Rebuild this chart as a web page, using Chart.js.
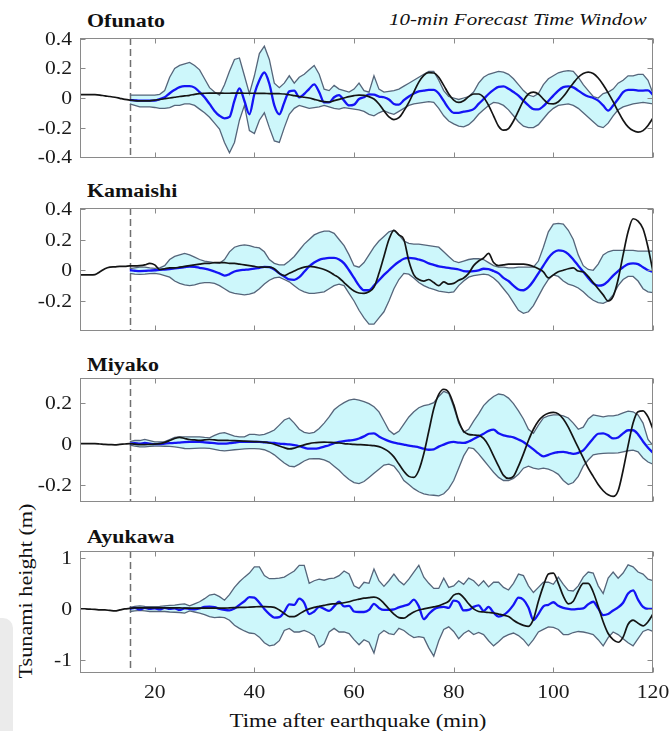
<!DOCTYPE html>
<html lang="en">
<head>
<meta charset="utf-8">
<title>Tsunami height forecasts</title>
<script src="https://cdn.jsdelivr.net/npm/chart.js@4.4.1/dist/chart.umd.min.js"></script>
<style>
  html, body { margin: 0; padding: 0; background: #fff; }
  body { position: relative; width: 671px; height: 731px; overflow: hidden;
         font-family: "Liberation Serif", "Times New Roman", serif; color: #111; }
  canvas { position: absolute; left: 0; }
  .txt { position: absolute; white-space: nowrap; line-height: 1; }
  .title { font-weight: bold; font-size: 18px; transform-origin: 0 50%; transform: scaleX(1.22); }
  .note { font-style: italic; font-size: 17.5px; right: 24px; transform-origin: 100% 50%; transform: scaleX(1.2); }
  .xtitle { font-size: 19px; left: 358px; top: 711px; transform: translateX(-50%) scaleX(1.2); }
  .ytitle { font-size: 19px; left: 25px; top: 591px; transform: translate(-50%, -50%) rotate(-90deg) scaleX(1.17); }
  .shade { position: absolute; left: 0; top: 618px; width: 13px; height: 113px; background: #ebebeb;
           border-top-right-radius: 10px; }
</style>
</head>
<body>
<div class="shade"></div>
<div class="txt title" style="left:87px;top:11.6px">Ofunato</div>
<div class="txt note" style="top:11.4px">10-min Forecast Time Window</div>
<div class="txt title" style="left:87px;top:181.8px">Kamaishi</div>
<div class="txt title" style="left:87px;top:355.6px">Miyako</div>
<div class="txt title" style="left:87px;top:528.2px">Ayukawa</div>
<div class="txt xtitle">Time after earthquake (min)</div>
<div class="txt ytitle">Tsunami height (m)</div>

<script>
// ---- time grid (minutes after the earthquake) ----
const obsMinutes = [5,6,7,8,9,10,11,12,13,14,15,16,17,18,19,20,21,22,23,24,25,26,27,28,29,30,
  31,32,33,34,35,36,37,38,39,40,41,42,43,44,45,46,47,48,49,50,51,52,53,54,55,56,57,58,59,60,
  61,62,63,64,65,66,67,68,69,70,71,72,73,74,75,76,77,78,79,80,81,82,83,84,85,86,87,88,89,90,
  91,92,93,94,95,96,97,98,99,100,101,102,103,104,105,106,107,108,109,110,111,112,113,114,115,
  116,117,118,119,120];
const fcMinutes = obsMinutes.slice(10);   // forecasts start at 15 min
const forecastStart = 15;
const xTicks = [20, 40, 60, 80, 100, 120];

// ---- Ofunato ----
const ofuUpper = [0.02,0.02,0.02,0.02,0.02,0.02,0.025,0.05,0.14,0.2,
  0.22,0.23,0.24,0.22,0.19,0.13,0.07,0.04,0.02,0.09,
  0.18,0.26,0.27,0.15,0.03,0.15,0.3,0.35,0.26,0.1,
  0.07,0.1,0.15,0.1,0.14,0.16,0.19,0.22,0.16,0.06,
  0.05,0.085,0.06,0.05,0.04,0.06,0.1,0.05,0.04,0.15,
  0.06,0.04,0.045,0.05,0.06,0.08,0.1,0.12,0.14,0.16,
  0.18,0.18,0.12,0.05,0.01,0.0,-0.01,0.0,0.01,0.04,
  0.1,0.14,0.16,0.17,0.18,0.175,0.16,0.13,0.09,0.05,
  0.02,0.01,0.03,0.09,0.13,0.15,0.17,0.18,0.185,0.18,
  0.14,0.09,0.05,0.01,0.0,0.03,0.04,0.06,0.1,0.12,
  0.15,0.15,0.16,0.16,0.12,0.03];
const ofuLower = [-0.04,-0.05,-0.06,-0.06,-0.06,-0.064,-0.07,-0.07,-0.065,-0.05,
  -0.05,-0.04,-0.04,-0.05,-0.075,-0.1,-0.13,-0.17,-0.21,-0.3,
  -0.37,-0.3,-0.15,-0.05,-0.22,-0.24,-0.15,-0.1,-0.2,-0.29,
  -0.3,-0.2,-0.11,-0.07,-0.05,-0.06,-0.07,-0.065,-0.06,-0.05,
  -0.06,-0.07,-0.075,-0.065,-0.07,-0.075,-0.08,-0.09,-0.11,-0.12,
  -0.1,-0.085,-0.1,-0.11,-0.09,-0.07,-0.05,-0.04,-0.035,-0.03,
  -0.025,-0.03,-0.07,-0.12,-0.155,-0.175,-0.19,-0.195,-0.18,-0.15,
  -0.11,-0.08,-0.05,-0.03,-0.035,-0.05,-0.08,-0.12,-0.16,-0.19,
  -0.2,-0.2,-0.18,-0.14,-0.1,-0.07,-0.05,-0.045,-0.04,-0.05,
  -0.07,-0.1,-0.13,-0.16,-0.19,-0.2,-0.17,-0.12,-0.08,-0.06,
  -0.05,-0.04,-0.035,-0.03,-0.035,-0.04];
const ofuMean = [-0.014,-0.016,-0.018,-0.018,-0.018,-0.018,-0.007,0.005,0.032,0.055,
  0.073,0.08,0.08,0.07,0.04,0.005,-0.04,-0.087,-0.12,-0.137,
  -0.128,-0.018,0.065,-0.02,-0.11,0.027,0.12,0.172,0.096,-0.05,
  -0.11,-0.03,0.045,0.05,0.005,0.027,0.062,0.092,0.04,-0.03,
  -0.03,0.005,0.02,-0.018,-0.05,-0.045,-0.007,0.005,0.025,0.023,
  0.01,0.005,-0.01,-0.04,-0.045,-0.015,0.01,0.03,0.045,0.05,
  0.055,0.055,0.03,-0.02,-0.07,-0.1,-0.1,-0.092,-0.087,-0.075,
  -0.04,-0.007,0.027,0.055,0.075,0.078,0.062,0.04,0.016,-0.018,
  -0.05,-0.075,-0.077,-0.055,-0.02,0.016,0.05,0.073,0.078,0.072,
  0.05,0.027,0.01,0.0,-0.018,-0.05,-0.085,-0.05,-0.007,0.04,
  0.055,0.055,0.05,0.05,0.052,0.02];
const ofuObs = [0.023,0.023,0.023,0.023,0.02,0.014,0.01,0.005,-0.002,-0.009,
  -0.014,-0.018,-0.02,-0.02,-0.019,-0.014,-0.01,-0.005,0.0,0.005,
  0.01,0.014,0.018,0.025,0.03,0.032,0.033,0.033,0.033,0.032,
  0.032,0.033,0.033,0.032,0.032,0.032,0.031,0.031,0.03,0.03,
  0.029,0.027,0.022,0.016,0.01,0.005,0.0,-0.009,-0.018,-0.025,
  -0.027,-0.018,-0.009,0.0,0.009,0.016,0.02,0.018,0.009,-0.007,
  -0.04,-0.087,-0.128,-0.146,-0.133,-0.087,-0.03,0.04,0.107,0.153,
  0.171,0.169,0.14,0.085,0.027,-0.014,-0.03,-0.018,0.009,0.027,
  0.027,0.005,-0.05,-0.12,-0.19,-0.217,-0.206,-0.155,-0.087,-0.018,
  0.027,0.039,0.027,-0.007,-0.037,-0.04,-0.025,0.01,0.055,0.1,
  0.14,0.165,0.175,0.165,0.135,0.09,0.035,-0.025,-0.09,-0.15,
  -0.195,-0.22,-0.23,-0.22,-0.185,-0.135];
const ofuTicks = [-0.4, -0.2, 0, 0.2, 0.4];

// ---- Kamaishi ----
const kamUpper = [0.01,0.015,0.02,0.02,0.015,0.012,0.015,0.03,0.07,0.09,
  0.1,0.11,0.1,0.085,0.07,0.06,0.055,0.05,0.045,0.07,
  0.12,0.15,0.16,0.165,0.16,0.15,0.145,0.12,0.07,0.045,
  0.035,0.035,0.06,0.09,0.13,0.17,0.2,0.23,0.245,0.255,
  0.255,0.24,0.2,0.16,0.1,0.03,0.02,0.05,0.1,0.15,
  0.19,0.22,0.25,0.26,0.23,0.19,0.175,0.17,0.17,0.165,
  0.16,0.155,0.15,0.12,0.09,0.06,0.05,0.06,0.07,0.075,
  0.075,0.07,0.05,0.03,0.02,0.02,0.015,0.015,0.02,0.02,
  0.02,0.02,0.06,0.15,0.25,0.3,0.305,0.3,0.26,0.2,
  0.1,0.03,0.005,0.0,0.04,0.1,0.12,0.13,0.13,0.13,
  0.13,0.13,0.125,0.125,0.125,0.125];
const kamLower = [-0.02,-0.025,-0.027,-0.025,-0.022,-0.02,-0.025,-0.035,-0.045,-0.07,
  -0.085,-0.095,-0.1,-0.095,-0.085,-0.08,-0.08,-0.085,-0.1,-0.12,
  -0.14,-0.15,-0.155,-0.16,-0.155,-0.145,-0.12,-0.09,-0.065,-0.05,
  -0.045,-0.06,-0.075,-0.1,-0.125,-0.14,-0.15,-0.15,-0.145,-0.14,
  -0.12,-0.1,-0.09,-0.1,-0.15,-0.2,-0.26,-0.31,-0.35,-0.35,
  -0.31,-0.27,-0.2,-0.12,-0.06,-0.02,-0.025,-0.05,-0.08,-0.1,
  -0.115,-0.125,-0.135,-0.14,-0.145,-0.14,-0.1,-0.07,-0.045,-0.035,
  -0.03,-0.025,-0.03,-0.05,-0.08,-0.12,-0.16,-0.21,-0.26,-0.28,
  -0.27,-0.23,-0.17,-0.11,-0.06,-0.03,-0.04,-0.07,-0.09,-0.1,
  -0.115,-0.14,-0.17,-0.195,-0.21,-0.215,-0.2,-0.16,-0.1,-0.06,
  -0.04,-0.04,-0.07,-0.12,-0.14,-0.145];
const kamMean = [0.0,-0.003,-0.005,-0.004,-0.002,0.0,0.003,0.005,0.008,0.012,
  0.016,0.02,0.024,0.022,0.016,0.01,0.003,-0.008,-0.02,-0.035,
  -0.025,-0.008,0.0,0.003,0.006,0.01,0.016,0.022,0.02,0.005,
  -0.02,-0.04,-0.06,-0.062,-0.045,-0.01,0.025,0.05,0.068,0.076,
  0.08,0.08,0.07,0.045,0.0,-0.05,-0.1,-0.13,-0.13,-0.1,
  -0.065,-0.03,0.0,0.03,0.055,0.075,0.08,0.078,0.07,0.06,
  0.045,0.035,0.025,0.02,0.015,0.01,0.005,-0.005,-0.008,-0.006,
  0.0,0.01,0.008,-0.005,-0.02,-0.05,-0.07,-0.1,-0.125,-0.13,
  -0.11,-0.07,-0.02,0.03,0.08,0.115,0.13,0.125,0.105,0.07,
  0.03,-0.01,-0.05,-0.085,-0.1,-0.095,-0.07,-0.035,-0.005,0.02,
  0.04,0.045,0.04,0.02,0.0,-0.01];
const kamObs = [-0.03,-0.03,-0.03,-0.028,-0.01,0.01,0.02,0.022,0.025,0.025,
  0.028,0.028,0.03,0.035,0.045,0.035,0.005,0.01,0.015,0.015,
  0.02,0.025,0.03,0.035,0.04,0.045,0.045,0.05,0.05,0.05,
  0.045,0.045,0.04,0.035,0.03,0.025,0.02,0.02,0.02,0.01,
  -0.02,-0.035,-0.02,-0.005,0.01,0.02,0.025,0.022,0.015,0.005,
  -0.01,-0.03,-0.05,-0.08,-0.11,-0.135,-0.148,-0.15,-0.14,-0.11,
  -0.02,0.09,0.2,0.26,0.23,0.2,0.06,-0.03,-0.06,-0.07,
  -0.06,-0.08,-0.1,-0.075,-0.09,-0.085,-0.065,-0.05,-0.02,0.03,
  0.06,0.08,0.11,0.05,0.03,0.035,0.04,0.04,0.04,0.04,
  0.035,0.025,0.01,-0.01,-0.05,-0.03,-0.01,0.0,0.01,0.015,
  -0.005,-0.01,-0.04,-0.08,-0.12,-0.16,-0.2,-0.17,-0.06,0.1,
  0.25,0.335,0.32,0.27,0.15,-0.01];
const kamTicks = [-0.2, 0, 0.2, 0.4];

// ---- Miyako ----
const miyUpper = [0.01,0.015,0.015,0.02,0.015,0.008,0.008,0.01,0.02,0.03,
  0.033,0.033,0.033,0.033,0.033,0.03,0.028,0.04,0.05,0.053,
  0.045,0.036,0.033,0.033,0.045,0.045,0.041,0.045,0.055,0.066,
  0.09,0.115,0.125,0.1,0.07,0.055,0.05,0.055,0.074,0.1,
  0.13,0.165,0.185,0.2,0.212,0.217,0.212,0.205,0.195,0.18,
  0.155,0.11,0.065,0.045,0.06,0.095,0.13,0.155,0.175,0.185,
  0.19,0.2,0.23,0.255,0.245,0.18,0.1,0.055,0.07,0.11,
  0.145,0.185,0.21,0.23,0.242,0.238,0.222,0.195,0.16,0.12,
  0.07,0.05,0.09,0.125,0.135,0.14,0.14,0.135,0.125,0.1,
  0.07,0.08,0.12,0.14,0.135,0.13,0.135,0.135,0.14,0.15,
  0.158,0.155,0.14,0.1,0.02,-0.01];
const miyLower = [-0.008,-0.012,-0.016,-0.016,-0.014,-0.012,-0.012,-0.013,-0.014,-0.016,
  -0.02,-0.024,-0.025,-0.023,-0.022,-0.022,-0.023,-0.028,-0.033,-0.036,
  -0.033,-0.03,-0.028,-0.026,-0.025,-0.025,-0.026,-0.03,-0.04,-0.055,
  -0.075,-0.095,-0.11,-0.113,-0.1,-0.085,-0.075,-0.073,-0.074,-0.08,
  -0.09,-0.11,-0.13,-0.155,-0.175,-0.19,-0.195,-0.185,-0.165,-0.145,
  -0.125,-0.105,-0.1,-0.11,-0.14,-0.18,-0.2,-0.22,-0.235,-0.245,
  -0.25,-0.252,-0.255,-0.245,-0.22,-0.18,-0.12,-0.06,-0.02,-0.025,
  -0.05,-0.08,-0.11,-0.14,-0.165,-0.18,-0.18,-0.17,-0.15,-0.12,
  -0.11,-0.12,-0.125,-0.12,-0.125,-0.135,-0.15,-0.18,-0.2,-0.19,
  -0.16,-0.11,-0.08,-0.055,-0.05,-0.048,-0.047,-0.047,-0.045,-0.04,
  -0.035,-0.032,-0.04,-0.07,-0.09,-0.1];
const miyMean = [0.0,0.002,0.0,0.003,0.0,-0.003,-0.002,0.0,0.002,0.003,
  0.005,0.007,0.008,0.008,0.008,0.006,0.004,0.002,0.0,0.0,
  0.002,0.005,0.008,0.008,0.008,0.008,0.008,0.006,0.005,0.003,
  0.0,-0.002,-0.004,-0.008,-0.013,-0.02,-0.025,-0.025,-0.022,-0.015,
  -0.008,0.002,0.008,0.012,0.015,0.018,0.025,0.035,0.048,0.05,
  0.035,0.022,0.012,0.005,0.0,-0.005,-0.01,-0.014,-0.018,-0.025,
  -0.03,-0.028,-0.015,-0.005,0.005,0.008,0.005,0.003,0.01,0.022,
  0.035,0.048,0.062,0.068,0.05,0.04,0.035,0.03,0.02,0.008,
  -0.01,-0.028,-0.048,-0.062,-0.055,-0.046,-0.042,-0.04,-0.045,-0.05,
  -0.045,-0.033,-0.005,0.025,0.048,0.05,0.04,0.025,0.03,0.05,
  0.065,0.065,0.045,0.01,-0.02,-0.045];
const miyObs = [0.0,0.0,0.0,0.0,-0.002,-0.004,-0.005,-0.006,-0.004,-0.002,
  0.0,-0.003,-0.005,-0.005,-0.004,-0.003,0.0,0.006,0.015,0.025,
  0.03,0.025,0.02,0.018,0.016,0.018,0.02,0.018,0.016,0.016,
  0.015,0.014,0.013,0.012,0.011,0.01,0.009,0.007,0.003,-0.003,
  -0.012,-0.02,-0.026,-0.022,-0.014,-0.006,0.0,0.004,0.006,0.007,
  0.006,0.005,0.003,0.0,-0.002,-0.004,-0.005,-0.006,-0.008,-0.01,
  -0.015,-0.025,-0.04,-0.065,-0.1,-0.135,-0.16,-0.165,-0.13,-0.05,
  0.06,0.17,0.24,0.265,0.25,0.19,0.11,0.06,0.045,0.042,
  0.04,0.025,-0.01,-0.06,-0.11,-0.155,-0.17,-0.16,-0.11,-0.05,
  0.015,0.07,0.11,0.135,0.148,0.152,0.145,0.12,0.08,0.03,
  -0.02,-0.07,-0.12,-0.16,-0.2,-0.23,-0.25,-0.258,-0.23,-0.13,
  -0.01,0.1,0.155,0.16,0.13,0.07];
const miyTicks = [-0.2, 0, 0.2];

// ---- Ayukawa ----
const ayuUpper = [0.03,0.05,0.06,0.05,0.045,0.045,0.05,0.06,0.07,0.075,
  0.09,0.1,0.06,0.1,0.14,0.2,0.27,0.29,0.24,0.17,
  0.28,0.42,0.53,0.62,0.7,0.82,0.82,0.65,0.59,0.59,
  0.6,0.62,0.68,0.74,0.85,0.85,0.5,0.55,0.58,0.56,
  0.59,0.6,0.65,0.74,0.68,0.45,0.4,0.52,0.5,0.78,
  0.55,0.44,0.55,0.68,0.55,0.47,0.58,0.72,0.85,0.62,
  0.5,0.4,0.4,0.6,0.42,0.45,0.55,0.48,0.6,0.55,
  0.45,0.55,0.43,0.52,0.52,0.42,0.37,0.5,0.68,0.65,
  0.45,0.32,0.42,0.52,0.52,0.48,0.62,0.48,0.36,0.35,
  0.45,0.62,0.72,0.7,0.45,0.3,0.6,0.72,0.6,0.7,
  0.86,0.82,0.72,0.68,0.58,0.55];
const ayuLower = [-0.05,-0.04,-0.03,-0.04,-0.05,-0.05,-0.05,-0.05,-0.06,-0.065,
  -0.07,-0.08,-0.04,-0.06,-0.08,-0.11,-0.15,-0.17,-0.16,-0.17,
  -0.22,-0.32,-0.38,-0.43,-0.47,-0.48,-0.55,-0.66,-0.72,-0.7,
  -0.62,-0.42,-0.38,-0.45,-0.45,-0.42,-0.46,-0.52,-0.75,-0.68,
  -0.45,-0.38,-0.45,-0.45,-0.48,-0.6,-0.7,-0.6,-0.65,-0.86,
  -0.5,-0.42,-0.48,-0.5,-0.38,-0.42,-0.5,-0.56,-0.54,-0.56,
  -0.76,-0.92,-0.62,-0.4,-0.35,-0.44,-0.58,-0.48,-0.42,-0.5,
  -0.46,-0.5,-0.62,-0.72,-0.64,-0.55,-0.5,-0.47,-0.52,-0.6,
  -0.72,-0.6,-0.45,-0.4,-0.35,-0.36,-0.4,-0.5,-0.5,-0.46,
  -0.44,-0.45,-0.47,-0.5,-0.6,-0.72,-0.56,-0.45,-0.5,-0.58,
  -0.66,-0.72,-0.58,-0.44,-0.4,-0.44];
const ayuMean = [0.0,0.02,-0.01,0.02,0.0,0.01,-0.01,0.02,0.0,0.01,
  -0.02,0.01,0.0,-0.01,0.01,0.04,0.045,0.035,0.0,-0.02,
  -0.03,0.01,0.08,0.15,0.23,0.22,0.12,0.0,-0.1,-0.17,
  -0.16,-0.06,0.09,0.08,0.2,0.12,-0.1,-0.05,0.04,0.0,
  -0.04,0.05,0.14,0.05,0.06,-0.05,-0.06,-0.06,-0.02,0.1,
  0.02,-0.02,-0.02,-0.01,0.03,0.06,0.09,0.18,0.05,-0.2,
  -0.1,-0.01,0.03,0.04,0.02,0.16,0.13,-0.03,-0.02,0.04,
  0.07,-0.04,0.04,-0.07,-0.15,-0.12,-0.04,0.08,0.22,0.18,
  0.03,-0.22,-0.1,0.05,0.08,0.13,0.06,0.02,0.0,-0.01,
  0.0,0.01,0.09,0.14,0.01,-0.12,-0.1,-0.03,0.03,0.12,
  0.3,0.36,0.18,0.04,0.0,0.0];
const ayuObs = [0.0,0.0,-0.005,-0.01,-0.02,-0.02,-0.03,-0.04,-0.02,0.0,
  0.01,0.02,0.02,0.02,0.02,0.02,0.02,0.02,0.02,0.02,
  0.02,0.015,0.015,0.015,0.015,0.015,0.015,0.015,0.015,0.015,
  0.02,0.025,0.03,0.03,0.035,0.04,0.045,0.045,0.04,0.03,
  -0.02,-0.09,-0.15,-0.15,-0.1,-0.04,0.0,0.03,0.05,0.07,
  0.09,0.1,0.11,0.12,0.14,0.17,0.19,0.21,0.22,0.23,
  0.2,0.11,0.0,-0.1,-0.17,-0.18,-0.12,-0.06,-0.02,0.0,
  0.02,0.04,0.06,0.1,0.15,0.27,0.3,0.22,0.1,0.0,
  -0.05,-0.06,-0.07,-0.08,-0.1,-0.12,-0.15,-0.22,-0.28,-0.32,
  -0.34,-0.2,0.15,0.45,0.68,0.7,0.5,0.25,0.1,0.15,
  0.35,0.5,0.5,0.33,0.05,-0.25,-0.48,-0.6,-0.65,-0.55,
  -0.3,-0.22,-0.28,-0.33,-0.25,-0.1];
const ayuTicks = [-1, 0, 1];

// ---- styling ----
const BAND_FILL = 'rgb(205, 247, 251)';
const BAND_EDGE = '#55657a';
const MEAN_BLUE = '#1414f5';
const OBS_BLACK = '#141414';
const FRAME = '#8a8a8a';
const LABEL_FONT = '18px "Liberation Serif", "Times New Roman", serif';

const panels = [
  { top: 38,  bottom: 158, min: -0.405, max: 0.405, ticks: ofuTicks, up: ofuUpper, lo: ofuLower, mean: ofuMean, obs: ofuObs },
  { top: 208, bottom: 331, min: -0.395, max: 0.405, ticks: kamTicks, up: kamUpper, lo: kamLower, mean: kamMean, obs: kamObs },
  { top: 378, bottom: 502, min: -0.285, max: 0.32,  ticks: miyTicks, up: miyUpper, lo: miyLower, mean: miyMean, obs: miyObs },
  { top: 551, bottom: 673, min: -1.25,  max: 1.13,  ticks: ayuTicks, up: ayuUpper, lo: ayuLower, mean: ayuMean, obs: ayuObs, xLabels: true }
];

const pairs = (xs, ys) => xs.map((x, i) => ({ x, y: ys[i] }));

// Box, inward ticks, tick labels and the forecast-start marker, in MATLAB style.
function boxPlugin(p) {
  return {
    id: 'matlabBox',
    beforeDatasetsDraw(chart) {
      const { ctx, chartArea: a, scales: { x } } = chart;
      const px = Math.round(x.getPixelForValue(forecastStart)) + 0.5;
      ctx.save();
      ctx.strokeStyle = '#707070';
      ctx.lineWidth = 1.5;
      ctx.setLineDash([7, 4]);
      ctx.beginPath();
      ctx.moveTo(px, a.top);
      ctx.lineTo(px, a.bottom);
      ctx.stroke();
      ctx.restore();
    },
    afterDatasetsDraw(chart) {
      const { ctx, chartArea: a, scales: { x, y } } = chart;
      const L = Math.round(a.left) + 0.5, R = Math.round(a.right) - 0.5;
      const T = Math.round(a.top) + 0.5, B = Math.round(a.bottom) - 0.5;
      ctx.save();
      ctx.strokeStyle = FRAME;
      ctx.lineWidth = 1;
      ctx.strokeRect(L, T, R - L, B - T);
      ctx.beginPath();
      xTicks.forEach(v => {
        const q = Math.round(x.getPixelForValue(v)) + 0.5;
        ctx.moveTo(q, B); ctx.lineTo(q, B - 5);
        ctx.moveTo(q, T); ctx.lineTo(q, T + 5);
      });
      p.ticks.forEach(v => {
        const q = Math.round(y.getPixelForValue(v)) + 0.5;
        ctx.moveTo(L, q); ctx.lineTo(L + 5, q);
        ctx.moveTo(R, q); ctx.lineTo(R - 5, q);
      });
      ctx.stroke();

      ctx.fillStyle = '#1a1a1a';
      ctx.font = LABEL_FONT;
      ctx.textBaseline = 'alphabetic';
      ctx.textAlign = 'right';
      p.ticks.forEach(v => {
        ctx.save();
        ctx.translate(a.left - 8, y.getPixelForValue(v) + 6);
        ctx.scale(1.2, 1);
        ctx.fillText(String(v), 0, 0);
        ctx.restore();
      });
      if (p.xLabels) {
        ctx.textAlign = 'center';
        xTicks.forEach(v => {
          ctx.save();
          ctx.translate(x.getPixelForValue(v), a.bottom + 25);
          ctx.scale(1.2, 1);
          ctx.fillText(String(v), 0, 0);
          ctx.restore();
        });
      }
      ctx.restore();
    }
  };
}

panels.forEach(p => {
  const padTop = 14, padBottom = p.xLabels ? 34 : 14;
  const canvas = document.createElement('canvas');
  canvas.width = 671;
  canvas.height = (p.bottom - p.top) + padTop + padBottom;
  canvas.style.top = (p.top - padTop) + 'px';
  document.body.appendChild(canvas);

  new Chart(canvas, {
    type: 'line',
    data: {
      datasets: [
        { data: pairs(fcMinutes, p.up), borderColor: BAND_EDGE, borderWidth: 1.3,
          backgroundColor: BAND_FILL, fill: '+1', order: 3 },
        { data: pairs(fcMinutes, p.lo), borderColor: BAND_EDGE, borderWidth: 1.3,
          fill: false, order: 2 },
        { data: pairs(fcMinutes, p.mean), borderColor: MEAN_BLUE, borderWidth: 2.3,
          fill: false, order: 1, cubicInterpolationMode: 'monotone' },
        { data: pairs(obsMinutes, p.obs), borderColor: OBS_BLACK, borderWidth: 1.7,
          fill: false, order: 0, cubicInterpolationMode: 'monotone' }
      ]
    },
    options: {
      responsive: false,
      maintainAspectRatio: false,
      animation: false,
      devicePixelRatio: 1,
      events: [],
      layout: { padding: { left: 80, right: 18, top: padTop, bottom: padBottom } },
      elements: { point: { radius: 0 }, line: { tension: 0 } },
      scales: {
        x: { type: 'linear', min: 5, max: 120, display: false },
        y: { type: 'linear', min: p.min, max: p.max, display: false }
      },
      plugins: {
        legend: { display: false },
        tooltip: { enabled: false },
        filler: { drawTime: 'beforeDatasetsDraw' }
      }
    },
    plugins: [boxPlugin(p)]
  });
});
</script>
</body>
</html>
